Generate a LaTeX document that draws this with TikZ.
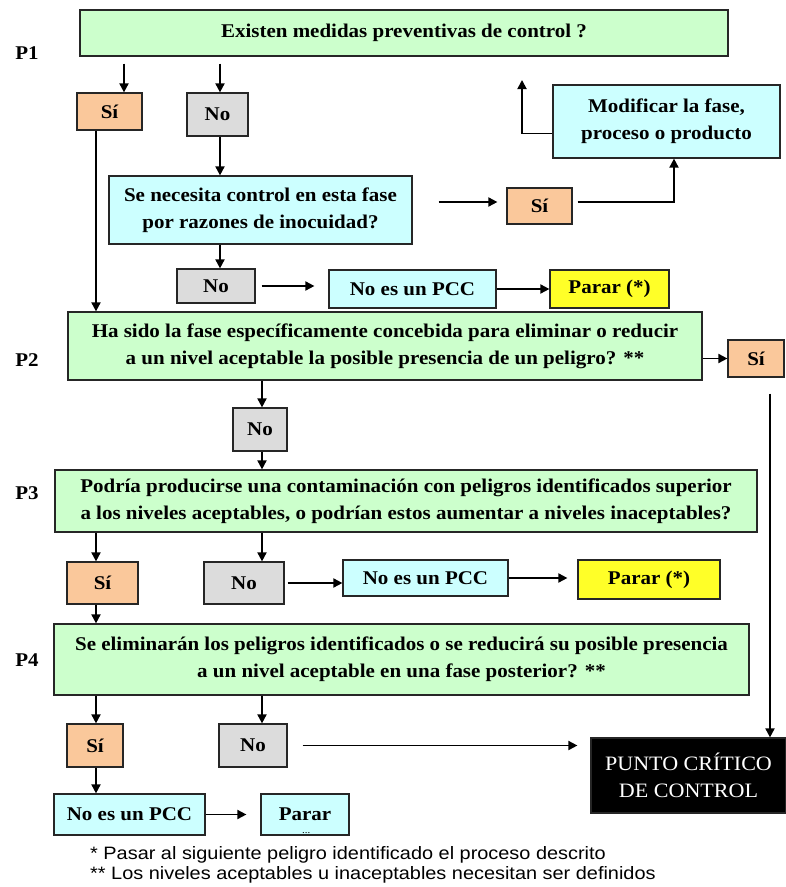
\documentclass[tikz,border=0pt]{standalone}
\usepackage{fontspec}
\setmainfont{Liberation Serif}[FakeStretch=1.08]
\newfontfamily\notefont{Liberation Sans}[FakeStretch=1.11]
\usetikzlibrary{arrows.meta}
\definecolor{qgreen}{RGB}{204,255,204}
\definecolor{qblue}{RGB}{204,255,255}
\definecolor{qorange}{RGB}{250,200,155}
\definecolor{qgray}{RGB}{220,220,220}
\definecolor{qyellow}{RGB}{255,255,40}

\begin{document}
\begin{tikzpicture}[
  >={Triangle[length=9bp,width=9bp]},
  box/.style={draw=black!85,line width=1.2bp,inner sep=0pt,align=center,
    font=\bfseries\fontsize{19.5}{27}\selectfont},
  question/.style={box,fill=qgreen},
  info/.style={box,fill=qblue},
  yes/.style={box,fill=qorange},
  no/.style={box,fill=qgray},
  halt/.style={box,fill=qyellow},
  pcc/.style={box,fill=black,text=white,font=\fontsize{20.5}{27}\selectfont},
  plabel/.style={font=\bfseries\fontsize{19.5}{24}\selectfont},
  note/.style={anchor=west,inner sep=0pt,font=\notefont\fontsize{18}{20}\selectfont},
  flow/.style={->,line width=1.8bp}]
\path [fill=white,use as bounding box] (0bp,0bp) rectangle (786bp,-887bp);

% columns and rows of the connectors
\coordinate (cA) at (96bp,0bp);
\coordinate (cB) at (124bp,0bp);
\coordinate (cC) at (220bp,0bp);
\coordinate (cD) at (262bp,0bp);
\coordinate (cE) at (674bp,0bp);
\coordinate (cF) at (770bp,0bp);
\coordinate (rA) at (0bp,-202bp);
\coordinate (up1) at (522bp,-80bp);

\node (P1) at (27bp,-53bp) [plabel] {P1};
\node (P2) at (27bp,-360bp) [plabel] {P2};
\node (P3) at (27bp,-493bp) [plabel] {P3};
\node (P4) at (27bp,-660bp) [plabel] {P4};

% P1
\node (q1) at (404bp,-33bp) [question,minimum width=648bp,minimum height=46bp] {Existen medidas preventivas de control ?};
\node (si1) at (109.5bp,-111.5bp) [yes,minimum width=65bp,minimum height=37bp] {Sí};
\node (no1) at (217.5bp,-114.5bp) [no,minimum width=61bp,minimum height=43bp] {No};
\node (q2) at (260.5bp,-210bp) [info,minimum width=303bp,minimum height=68bp] {Se necesita control en esta fase\\por razones de inocuidad?};
\node (si2) at (539.5bp,-206bp) [yes,minimum width=65bp,minimum height=36bp] {Sí};
\node (mod) at (666.5bp,-121.5bp) [info,minimum width=227bp,minimum height=73bp] {Modificar la fase,\\proceso o producto};
\node (no2) at (216bp,-286bp) [no,minimum width=78bp,minimum height=34bp] {No};
\node (pcc1) at (412.5bp,-289bp) [info,minimum width=167bp,minimum height=38bp] {No es un PCC};
\node (par1) at (609.5bp,-289bp) [halt,minimum width=119bp,minimum height=38bp] {Parar (*)};

% P2
\node (q3) at (385bp,-346bp) [question,minimum width=634bp,minimum height=68bp] {Ha sido la fase específicamente concebida para eliminar o reducir\\a un nivel aceptable la posible presencia de un peligro? **};
\node (si3) at (756bp,-358.5bp) [yes,minimum width=56bp,minimum height=37bp] {Sí};
\node (no3) at (260bp,-429.5bp) [no,minimum width=54bp,minimum height=43bp] {No};

% P3
\node (q4) at (406bp,-501bp) [question,minimum width=702bp,minimum height=62bp] {Podría producirse una contaminación con peligros identificados superior\\a los niveles aceptables, o podrían estos aumentar a niveles inaceptables?};
\node (si4) at (102.5bp,-583bp) [yes,minimum width=71bp,minimum height=42bp] {Sí};
\node (no4) at (244bp,-583bp) [no,minimum width=80bp,minimum height=42bp] {No};
\node (pcc2) at (425.5bp,-578bp) [info,minimum width=165bp,minimum height=36bp] {No es un PCC};
\node (par2) at (649bp,-579.5bp) [halt,minimum width=142bp,minimum height=39bp] {Parar (*)};

% P4
\node (q5) at (401.5bp,-659.5bp) [question,minimum width=695bp,minimum height=71bp] {Se eliminarán los peligros identificados o se reducirá su posible presencia\\a un nivel aceptable en una fase posterior? **};
\node (si5) at (95bp,-745.5bp) [yes,minimum width=56bp,minimum height=43bp] {Sí};
\node (no5) at (253bp,-745.5bp) [no,minimum width=68bp,minimum height=43bp] {No};
\node (ccp) at (688.5bp,-775.5bp) [pcc,minimum width=195bp,minimum height=75bp] {PUNTO CRÍTICO\\DE CONTROL};
\node (pcc3) at (129.5bp,-814.5bp) [info,minimum width=151bp,minimum height=41bp] {No es un PCC};
\node (par3) at (305bp,-814.5bp) [info,minimum width=88bp,minimum height=41bp] {Parar\llap{\smash{\raisebox{-13bp}{\mdseries\fontsize{10}{10}\selectfont ...}}\hspace{21bp}}};

\node (note1) at (90bp,-855bp) [note] {* Pasar al siguiente peligro identificado el proceso descrito};
\node (note2) at (90bp,-875bp) [note] {** Los niveles aceptables u inaceptables necesitan ser definidos};

% connectors
\draw [flow,shorten <=7bp] (q1.south -| cB) -- (si1.north -| cB);
\draw [flow,shorten <=7bp] (q1.south -| cC) -- (no1.north -| cC);
\draw [flow] (si1.south -| cA) -- (q3.north -| cA);
\draw [flow] (no1.south -| cC) -- (q2.north -| cC);
\draw [flow,shorten <=26bp,shorten >=9bp] (q2.east |- rA) -- (si2.west |- rA);
\draw [flow,shorten <=5bp] (si2.east |- rA) -| (mod.south -| cE);
\draw [flow] ([yshift=-12bp]mod.west) -| (up1);
\draw [flow] (q2.south -| cC) -- (no2.north -| cC);
\draw [flow,shorten <=6bp,shorten >=14bp] (no2.east) -- (pcc1.west |- no2.east);
\draw [flow] (pcc1.east) -- (par1.west);
\draw [flow] (q3.east |- si3.west) -- (si3.west);
\draw [flow,shorten <=16bp] (si3.south -| cF) -- (ccp.north -| cF);
\draw [flow] (q3.south -| cD) -- (no3.north -| cD);
\draw [flow] (no3.south -| cD) -- (q4.north -| cD);
\draw [flow] (q4.south -| cA) -- (si4.north -| cA);
\draw [flow] (q4.south -| cD) -- (no4.north -| cD);
\draw [flow,shorten <=3bp] (no4.east) -- (pcc2.west |- no4.east);
\draw [flow,shorten >=10bp] (pcc2.east) -- (par2.west |- pcc2.east);
\draw [flow] (si4.south -| cA) -- (q5.north -| cA);
\draw [flow] (q5.south -| cA) -- (si5.north -| cA);
\draw [flow] (q5.south -| cD) -- (no5.north -| cD);
\draw [flow,shorten <=15bp,shorten >=13bp] (no5.east) -- (ccp.west |- no5.east);
\draw [flow] (si5.south -| cA) -- (pcc3.north -| cA);
\draw [flow,shorten >=14bp] (pcc3.east) -- (par3.west);
\end{tikzpicture}
\end{document}
